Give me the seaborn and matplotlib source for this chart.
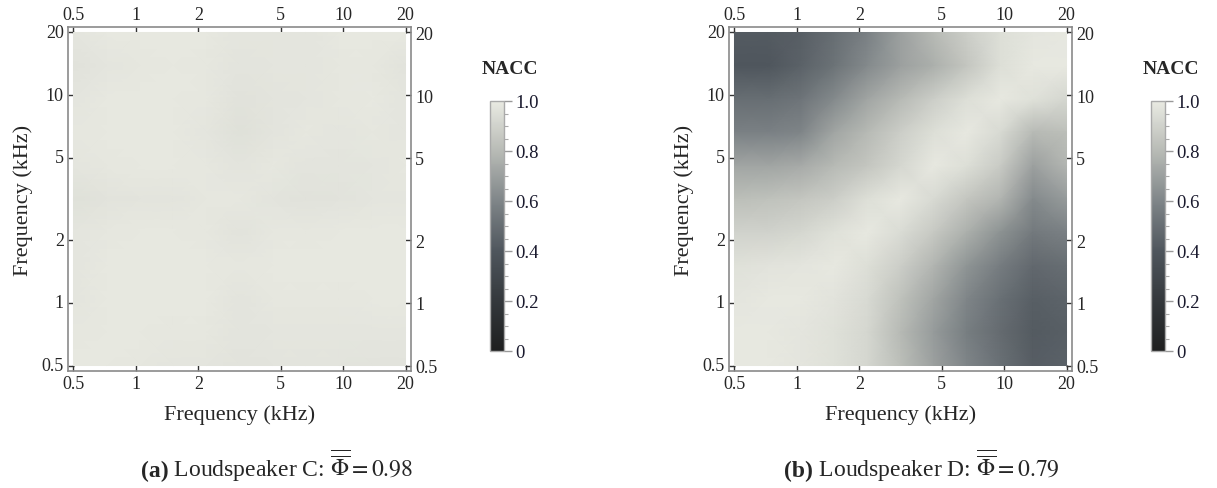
import numpy as np
import matplotlib
matplotlib.use("Agg")
import matplotlib.pyplot as plt
from matplotlib.colors import LinearSegmentedColormap
import seaborn as sns

# ---------------- data ----------------
# log-spaced frequency grid (kHz) of the NACC matrices
grid_freqs = [0.5, 0.72, 1.05, 1.51, 2.19, 3.16, 4.57, 6.6, 9.5, 13.8, 20.0]
tick_freqs = [0.5, 1, 2, 5, 10, 20]
tick_labels = ["0.5", "1", "2", "5", "10", "20"]
cbar_ticks = [0, 0.2, 0.4, 0.6, 0.8, 1.0]
cbar_labels = ["0", "0.2", "0.4", "0.6", "0.8", "1.0"]

# Loudspeaker C (rows from 20 kHz at top down to 0.5 kHz)
nacc_c = [
    [0.98, 0.99, 0.99, 0.99, 0.99, 0.98, 0.98, 0.98, 0.99, 0.99, 0.99],
    [0.965, 0.98, 0.985, 0.99, 0.985, 0.975, 0.98, 0.98, 0.985, 0.985, 0.97],
    [0.98, 0.99, 0.99, 0.99, 0.985, 0.965, 0.975, 0.98, 0.985, 0.99, 0.98],
    [0.985, 0.99, 0.99, 0.99, 0.98, 0.96, 0.975, 0.985, 0.98, 0.985, 0.98],
    [0.98, 0.985, 0.99, 0.99, 0.985, 0.975, 0.985, 0.975, 0.975, 0.98, 0.985],
    [0.96, 0.97, 0.975, 0.975, 0.985, 0.985, 0.975, 0.965, 0.97, 0.98, 0.98],
    [0.98, 0.985, 0.99, 0.99, 0.985, 0.97, 0.985, 0.985, 0.99, 0.99, 0.99],
    [0.98, 0.99, 0.99, 0.99, 0.99, 0.985, 0.99, 0.99, 0.99, 0.99, 0.99],
    [0.98, 0.99, 0.99, 0.99, 0.99, 0.975, 0.985, 0.985, 0.985, 0.99, 0.99],
    [0.985, 0.99, 0.99, 0.985, 0.985, 0.975, 0.98, 0.98, 0.98, 0.98, 0.98],
    [0.99, 0.99, 0.985, 0.98, 0.98, 0.97, 0.975, 0.975, 0.975, 0.97, 0.97],
]

# Loudspeaker D (rows from 20 kHz at top down to 0.5 kHz)
nacc_d = [
    [0.42, 0.42, 0.44, 0.50, 0.58, 0.70, 0.80, 0.88, 0.95, 0.98, 0.99],
    [0.40, 0.40, 0.45, 0.52, 0.62, 0.70, 0.76, 0.85, 0.95, 0.99, 0.99],
    [0.50, 0.50, 0.53, 0.62, 0.72, 0.80, 0.88, 0.95, 0.99, 0.96, 0.92],
    [0.58, 0.58, 0.60, 0.72, 0.80, 0.88, 0.95, 0.99, 0.93, 0.80, 0.82],
    [0.72, 0.72, 0.74, 0.80, 0.85, 0.92, 0.99, 0.95, 0.87, 0.70, 0.78],
    [0.82, 0.83, 0.85, 0.88, 0.95, 0.99, 0.93, 0.85, 0.78, 0.62, 0.68],
    [0.90, 0.90, 0.92, 0.96, 0.99, 0.94, 0.86, 0.76, 0.65, 0.55, 0.58],
    [0.96, 0.97, 0.98, 0.99, 0.95, 0.88, 0.78, 0.66, 0.56, 0.48, 0.50],
    [0.98, 0.99, 0.99, 0.97, 0.93, 0.83, 0.72, 0.60, 0.51, 0.44, 0.46],
    [0.99, 0.99, 0.98, 0.96, 0.92, 0.80, 0.68, 0.57, 0.49, 0.42, 0.44],
    [0.99, 0.99, 0.98, 0.96, 0.92, 0.82, 0.70, 0.60, 0.51, 0.43, 0.45],
]

caption_tags = ["(a)", "(b)"]
caption_texts = [r" Loudspeaker C: $\overline{\overline{\Phi}} = 0.98$",
                 r" Loudspeaker D: $\overline{\overline{\Phi}} = 0.79$"]

# ---------------- style ----------------
sns.set_theme(style="white")
plt.rcParams["font.family"] = ["Liberation Serif", "DejaVu Serif"]
plt.rcParams["mathtext.fontset"] = "stix"

cmap = LinearSegmentedColormap.from_list(
    "graytones",
    [(0.0, "#1e1f1f"), (0.2, "#34383c"), (0.4, "#4f565d"),
     (0.6, "#7f8588"), (0.8, "#b7bab5"), (1.0, "#e9eae2")])

W, H = 1217, 489
fig = plt.figure(figsize=(W / 100, H / 100), dpi=100)


def fx(px):
    return px / W


def fy(py):
    return 1 - py / H


frame_color = "#8a8a8a"
N = len(grid_freqs)
lo, hi = np.log10(grid_freqs[0]), np.log10(grid_freqs[-1])
xpos = [(np.log10(f) - lo) / (hi - lo) * (N - 1) for f in tick_freqs]
ypos = [(hi - np.log10(f)) / (hi - lo) * (N - 1) for f in tick_freqs]
pad = 0.165

renderer = fig.canvas.get_renderer()

panels = [(68, 490, 277, nacc_c), (729, 1151, 922, nacc_d)]
for i, (x0, cx0, cap_c, data) in enumerate(panels):
    ax = fig.add_axes([fx(x0), fy(372), fx(343), 344 / H])
    cax = fig.add_axes([fx(cx0), fy(352), fx(14), 250 / H])
    sns.heatmap(np.array(data), ax=ax, cbar_ax=cax, cmap=cmap, vmin=0, vmax=1,
                shading="gouraud", cbar=True)
    ax.set_xlim(-pad, N - 1 + pad)
    ax.set_ylim(N - 1 + pad, -pad)
    for s in ax.spines.values():
        s.set_visible(True)
        s.set_color(frame_color)
        s.set_linewidth(1.2)
    ax.set_xticks(xpos)
    ax.set_xticklabels(tick_labels)
    ax.set_yticks(ypos)
    ax.set_yticklabels(tick_labels)
    ax.tick_params(axis="both", which="major", direction="in", length=4, width=1,
                   color="#333333", labelsize=13, pad=3,
                   top=True, right=True, labeltop=True, labelright=True,
                   bottom=True, left=True, labelbottom=True, labelleft=True)
    plt.setp(ax.get_xticklabels(), rotation=0)
    plt.setp(ax.get_yticklabels(), rotation=0)
    ax.set_xlabel("Frequency (kHz)", fontsize=16, labelpad=9)
    ax.set_ylabel("Frequency (kHz)", fontsize=16, labelpad=6)

    # colorbar
    cb = ax.collections[0].colorbar
    cb.set_ticks(cbar_ticks)
    cb.set_ticklabels(cbar_labels)
    cb.outline.set_edgecolor("#aaaaaa")
    cb.outline.set_linewidth(1.0)
    cax.yaxis.set_minor_locator(matplotlib.ticker.MultipleLocator(0.05))
    cax.tick_params(which="major", direction="out", length=6, width=1,
                    color="#999999", labelsize=13.5, pad=2)
    cax.tick_params(which="minor", direction="out", length=3, width=0.8,
                    color="#aaaaaa")
    for lab in cax.get_yticklabels():
        lab.set_color("#1a1a2e")

    fig.text(fx(cx0 + 20), fy(70), "NACC", ha="center", va="center",
             fontsize=14, fontweight="bold")

    # caption: bold tag followed by regular text, centred as a whole
    tag = fig.text(0, fy(477), caption_tags[i], ha="left", va="baseline",
                   fontsize=17, fontweight="bold")
    rest = fig.text(0, fy(477), caption_texts[i], ha="left", va="baseline",
                    fontsize=17)
    wt = tag.get_window_extent(renderer).width
    wr = rest.get_window_extent(renderer).width
    start = cap_c - (wt + wr) / 2
    tag.set_x(fx(start))
    rest.set_x(fx(start + wt))

fig.savefig("out.png", dpi=100)
